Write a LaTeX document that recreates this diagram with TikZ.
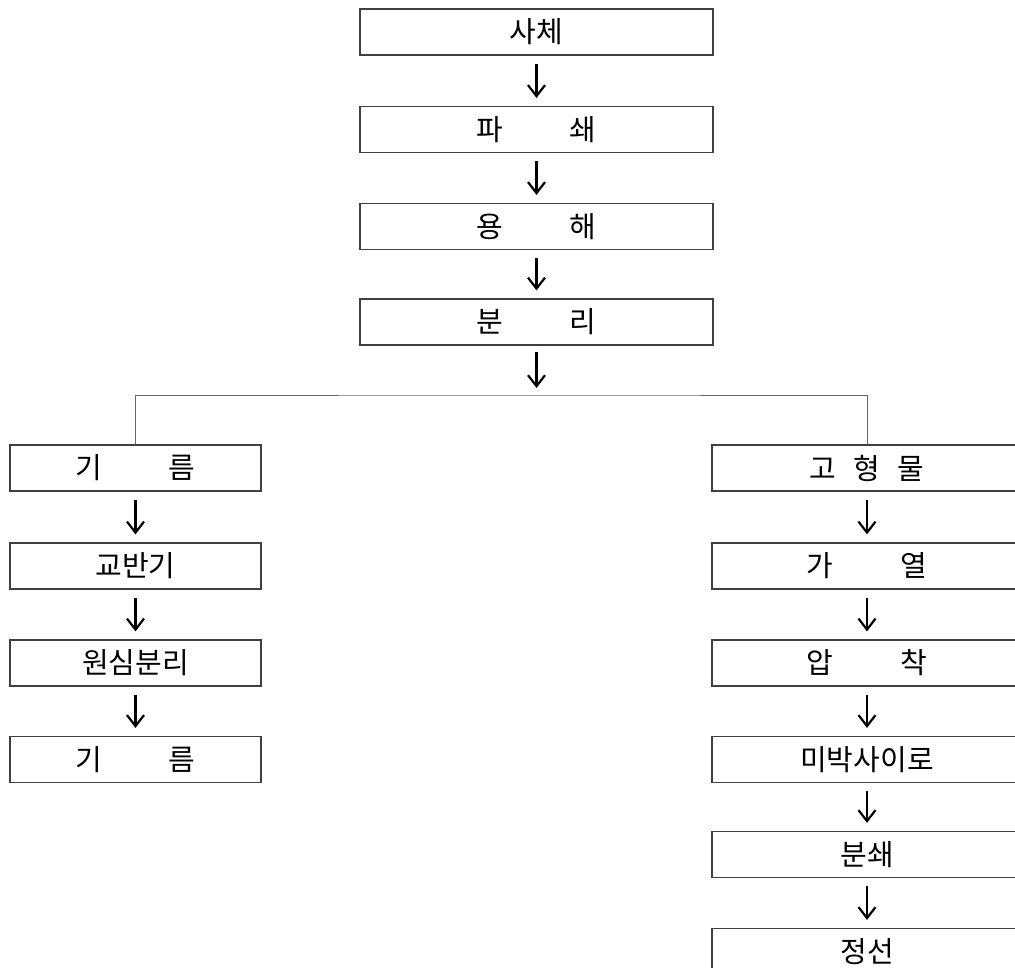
\documentclass[tikz,border=0pt]{standalone}
\usepackage{fontspec}
\setmainfont{Noto Sans CJK KR}
\usetikzlibrary{arrows.meta}
\tikzset{
  box/.style={draw=black!75, line width=1.2pt, minimum height=46pt, inner sep=0pt, font=\fontsize{29}{31}\selectfont},
  arr/.style={draw=black, line width=2.2pt, -{Straight Barb[length=11pt,width=17pt,line width=2.2pt]}, shorten <=8pt, shorten >=8pt},
  branch/.style={draw=black!60, line width=1pt}
}
\begin{document}
\begin{tikzpicture}[x=1pt,y=-1pt]
\useasboundingbox (0,0) rectangle (1015,967);
\clip (0,0) rectangle (1015,967);
% center column
\node[box, minimum width=353pt] (c1) at (536.5,32) {사체};
\node[box, minimum width=353pt] (c2) at (536.5,129.5) {파\hspace{67pt}쇄};
\node[box, minimum width=353pt] (c3) at (536.5,226.5) {용\hspace{67pt}해};
\node[box, minimum width=353pt] (c4) at (536.5,322) {분\hspace{67pt}리};
\coordinate (split) at (536.5,395);
% left column
\node[box, minimum width=251pt] (l1) at (135.5,468) {기\hspace{67pt}름};
\node[box, minimum width=251pt] (l2) at (135.5,566) {교반기};
\node[box, minimum width=251pt] (l3) at (135.5,663) {원심분리};
\node[box, minimum width=251pt] (l4) at (135.5,759.5) {기\hspace{67pt}름};
% right column
\node[box, minimum width=310pt] (r1) at (867,468) {고\hspace{17pt}형\hspace{17pt}물};
\node[box, minimum width=310pt] (r2) at (867,566) {가\hspace{67pt}열};
\node[box, minimum width=310pt] (r3) at (867,663) {압\hspace{67pt}착};
\node[box, minimum width=310pt] (r4) at (867,759.5) {미박사이로};
\node[box, minimum width=310pt] (r5) at (867,854.5) {분쇄};
\node[box, minimum width=310pt] (r6) at (867,951.5) {정선};
% arrows
\draw[arr] (c1.south) -- (c2.north);
\draw[arr] (c2.south) -- (c3.north);
\draw[arr] (c3.south) -- (c4.north);
\draw[arr, shorten <=6pt, shorten >=7pt] (c4.south) -- (split);
\draw[branch] (l1.north) |- (split) -| (r1.north);
\draw[arr] (l1.south) -- (l2.north);
\draw[arr] (l2.south) -- (l3.north);
\draw[arr] (l3.south) -- (l4.north);
\draw[arr] (r1.south) -- (r2.north);
\draw[arr] (r2.south) -- (r3.north);
\draw[arr] (r3.south) -- (r4.north);
\draw[arr] (r4.south) -- (r5.north);
\draw[arr] (r5.south) -- (r6.north);
\end{tikzpicture}
\end{document}
